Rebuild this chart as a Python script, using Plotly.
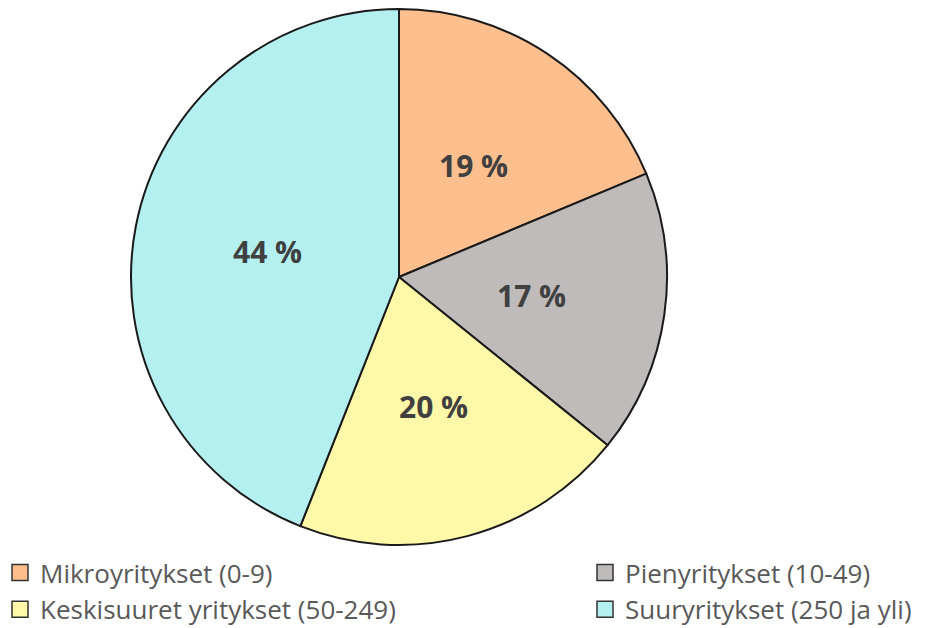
import math
import plotly.graph_objects as go

categories = ["Mikroyritykset (0-9)", "Pienyritykset (10-49)",
              "Keskisuuret yritykset (50-249)", "Suuryritykset (250 ja yli)"]
shares = [18.7, 17.1, 20.2, 44.0]
colors = ["#FDBF8E", "#BFBBBB", "#FFF8A8", "#B4F0F0"]
legend_cols = ["legend", "legend2", "legend", "legend2"]

W, H = 936, 628
cx, cy, r = 399, 277, 268

fig = go.Figure()
fig.add_trace(go.Pie(
    labels=categories,
    values=shares,
    sort=False,
    direction="clockwise",
    rotation=0,
    marker=dict(colors=colors, line=dict(color="#1a1a1a", width=2)),
    textinfo="none",
    showlegend=False,
    domain=dict(x=[(cx - r) / W, (cx + r) / W], y=[1 - (cy + r) / H, 1 - (cy - r) / H]),
    hoverinfo="label+percent",
))

# percentage labels at half radius on each slice's mid-angle (computed from the data)
total = sum(shares)
cum = 0.0
for v in shares:
    mid = (cum + v / 2) / total * 2 * math.pi
    cum += v
    px = cx + 0.5 * r * math.sin(mid)
    py = cy - 0.5 * r * math.cos(mid)
    fig.add_annotation(
        x=px / W, y=1 - py / H, xref="paper", yref="paper",
        text=f"{v:.0f} %", showarrow=False,
        font=dict(family="Open Sans", size=30, color="#404040", weight="bold"),
        xanchor="center", yanchor="middle",
    )

# legend entries (two columns)
for name, col, lg in zip(categories, colors, legend_cols):
    fig.add_trace(go.Scatter(
        x=[None], y=[None], mode="markers", name=name, legend=lg,
        marker=dict(symbol="square", size=17, color=col, line=dict(color="#333333", width=1.5)),
        hoverinfo="skip",
    ))

legend_font = dict(family="Open Sans", size=26, color="#595959")
fig.update_layout(
    width=W, height=H,
    margin=dict(l=0, r=0, t=0, b=0, autoexpand=False),
    paper_bgcolor="white",
    plot_bgcolor="white",
    xaxis=dict(visible=False),
    yaxis=dict(visible=False),
    legend=dict(x=0.0, xanchor="left", y=1 - 549 / H, yanchor="top",
                font=legend_font, tracegroupgap=0, bgcolor="rgba(0,0,0,0)"),
    legend2=dict(x=(597 - 12) / W, xanchor="left", y=1 - 549 / H, yanchor="top",
                 font=legend_font, tracegroupgap=0, bgcolor="rgba(0,0,0,0)"),
)

fig.write_html("out.html")
